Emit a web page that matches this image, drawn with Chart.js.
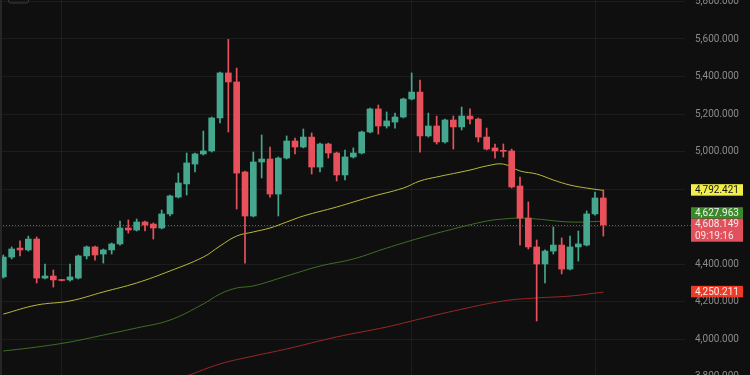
<!DOCTYPE html>
<html>
<head>
<meta charset="utf-8">
<script src="https://cdn.jsdelivr.net/npm/chart.js@4.4.1/dist/chart.umd.min.js"></script>
<style>
  html, body { margin: 0; padding: 0; background: #0f0f0f; }
  canvas { display: block; background: #0f0f0f; }
</style>
</head>
<body>
<canvas id="graphique" width="750" height="375"></canvas>
<script>
// ================================
// DONNÉES
// ================================

// Bougies, de gauche à droite (73 séances)
const ouvertures = [
  4331, 4437, 4485, 4475, 4533, 4325, 4336, 4316, 4315, 4325,
  4443, 4491, 4453, 4475, 4507, 4592, 4581, 4624, 4613, 4592,
  4667, 4757, 4827, 4933, 4987, 5003, 5179, 5419, 5371, 4891,
  4656, 4944, 4960, 4773, 4965, 5056, 5024, 5077, 4917, 5040,
  4992, 4875, 4971, 4992, 5104, 5227, 5136, 5157, 5184, 5280,
  5317, 5083, 5136, 5051, 5168, 5131, 5189, 5173, 5077, 5019,
  5006, 5003, 4816, 4645, 4491, 4400, 4469, 4501, 4373, 4491,
  4501, 4667, 4752
];
const hauts = [
  4448, 4491, 4523, 4549, 4544, 4400, 4368, 4318, 4400, 4448,
  4496, 4496, 4480, 4512, 4629, 4635, 4640, 4629, 4619, 4688,
  4768, 4885, 4992, 4992, 5109, 5184, 5424, 5598, 5445, 4895,
  4997, 5088, 5024, 4971, 5083, 5072, 5120, 5099, 5045, 5045,
  4997, 5008, 5019, 5109, 5232, 5248, 5211, 5205, 5285, 5419,
  5381, 5205, 5189, 5173, 5189, 5237, 5227, 5179, 5125, 5040,
  5040, 5013, 4864, 4731, 4528, 4475, 4597, 4539, 4549, 4576,
  4683, 4784, 4795
];
const bas = [
  4325, 4427, 4443, 4469, 4299, 4320, 4277, 4310, 4309, 4320,
  4427, 4421, 4405, 4453, 4501, 4565, 4576, 4576, 4533, 4587,
  4656, 4752, 4768, 4891, 4981, 4997, 5152, 5104, 4693, 4405,
  4651, 4859, 4757, 4656, 4960, 4987, 5019, 4880, 4891, 4965,
  4843, 4848, 4965, 4987, 5099, 5093, 5125, 5125, 5179, 5275,
  4997, 5077, 5040, 5045, 5013, 5115, 5147, 5051, 5008, 4965,
  4971, 4805, 4501, 4480, 4096, 4299, 4453, 4347, 4368, 4416,
  4496, 4661, 4549
];
const clotures = [
  4437, 4480, 4475, 4533, 4325, 4336, 4315, 4312, 4331, 4443,
  4491, 4448, 4475, 4507, 4592, 4581, 4624, 4608, 4592, 4667,
  4763, 4832, 4939, 4987, 5003, 5179, 5419, 5371, 4885, 4656,
  4944, 4960, 4773, 4965, 5056, 5024, 5077, 4917, 5040, 4992,
  4875, 4971, 4992, 5104, 5227, 5136, 5163, 5184, 5280, 5317,
  5083, 5136, 5051, 5168, 5131, 5189, 5173, 5077, 5013, 5003,
  5001, 4811, 4645, 4491, 4400, 4469, 4501, 4373, 4491, 4507,
  4667, 4752, 4608.149
];

// Moyennes mobiles, lues à quelques positions de bougie
const mmJauneX = [0, 4, 8, 12, 16, 20, 24, 26, 28, 30, 32, 34, 36, 40, 44, 48, 50, 52, 56, 58, 60, 62, 64, 66, 68, 70, 72];
const mmJauneY = [4133, 4181, 4203, 4251, 4299, 4363, 4437, 4496, 4549, 4571, 4592, 4624, 4656, 4704, 4757, 4805, 4843, 4864, 4901, 4923, 4933, 4896, 4880, 4848, 4821, 4805, 4792.421];

const mmVerteX = [0, 4, 8, 12, 16, 20, 24, 26, 28, 30, 34, 38, 42, 46, 50, 54, 58, 60, 62, 64, 68, 72];
const mmVerteY = [3936, 3957, 3984, 4021, 4059, 4101, 4187, 4240, 4272, 4283, 4336, 4389, 4427, 4485, 4539, 4587, 4629, 4640, 4645, 4640, 4624, 4627.963];

const mmRougeX = [20, 22, 26, 30, 34, 40, 46, 50, 54, 60, 64, 68, 72];
const mmRougeY = [3775, 3803, 3867, 3909, 3947, 4011, 4064, 4107, 4149, 4203, 4219, 4229, 4250.211];

// Graduations de l'axe des prix, et celles masquées par les étiquettes
const graduations = [3800, 4000, 4200, 4400, 4600, 4800, 5000, 5200, 5400, 5600, 5800];
const graduationsMasquees = [4600, 4800];

// Séparations de période (index de bougie)
const separations = [7, 49, 71];

// Étiquettes de droite
const prixActuel = 4608.149;
const compteARebours = '09:19:16';

// ================================
// COULEURS
// ================================

const VERT_BOUGIE = '#45a88e';
const ROUGE_BOUGIE = '#e8515b';
const GRILLE = 'rgba(255, 255, 255, 0.055)';

function couleurBougie(i) {
  return clotures[i] >= ouvertures[i] ? VERT_BOUGIE : ROUGE_BOUGIE;
}

function points(xs, ys) {
  return xs.map(function(x, k) { return { x: x, y: ys[k] }; });
}

function formatPrix(v) {
  return Number(v).toLocaleString('en-US', { minimumFractionDigits: 3, maximumFractionDigits: 3 });
}

const etiquettes = [
  { valeur: mmJauneY[mmJauneY.length - 1], lignes: [formatPrix(mmJauneY[mmJauneY.length - 1])], fond: '#f1ee4b', texte: '#141414' },
  { valeur: mmVerteY[mmVerteY.length - 1], lignes: [formatPrix(mmVerteY[mmVerteY.length - 1])], fond: '#3a8a2c', texte: '#f2f2f2' },
  { valeur: prixActuel, lignes: [formatPrix(prixActuel), compteARebours], fond: '#e2505b', texte: '#f6e6e8' },
  { valeur: mmRougeY[mmRougeY.length - 1], lignes: [formatPrix(mmRougeY[mmRougeY.length - 1])], fond: '#ee3b27', texte: '#f8eeee' }
];

// ================================
// PLUGIN : ligne de prix + étiquettes
// ================================

const pluginPrix = {
  id: 'prix',
  beforeDatasetsDraw: function(chart) {
    const ctx = chart.ctx;
    const zone = chart.chartArea;
    const y = Math.round(chart.scales.y.getPixelForValue(prixActuel)) + 0.5;
    ctx.save();
    ctx.strokeStyle = 'rgba(226, 80, 91, 0.75)';
    ctx.lineWidth = 1;
    ctx.setLineDash([1, 2]);
    ctx.beginPath();
    ctx.moveTo(zone.left, y);
    ctx.lineTo(zone.right + 6, y);
    ctx.stroke();
    ctx.restore();
  },
  afterDraw: function(chart) {
    const ctx = chart.ctx;
    const zone = chart.chartArea;
    const echelle = chart.scales.y;
    const hLigne = 11.5;

    // positions, puis on pousse vers le haut ce qui chevauche
    const boites = etiquettes.map(function(e) {
      const py = echelle.getPixelForValue(e.valeur);
      return { e: e, haut: py - hLigne / 2 - 0.5, h: hLigne * e.lignes.length };
    }).sort(function(a, b) { return a.haut - b.haut; });
    for (let k = boites.length - 2; k >= 0; k--) {
      const dessous = boites[k + 1];
      if (boites[k].haut + boites[k].h > dessous.haut) {
        boites[k].haut = dessous.haut - boites[k].h;
      }
    }

    ctx.save();
    ctx.font = '10px Roboto';
    ctx.textBaseline = 'middle';
    ctx.textAlign = 'left';
    boites.forEach(function(b) {
      ctx.fillStyle = b.e.fond;
      ctx.fillRect(zone.right + 6, b.haut, 52, b.h);
      ctx.fillStyle = b.e.texte;
      b.e.lignes.forEach(function(t, n) {
        ctx.fillText(t, zone.right + 10, b.haut + hLigne / 2 + 0.5 + n * hLigne);
      });
    });

    // bord gauche et petit bouton en haut
    ctx.fillStyle = '#262626';
    ctx.fillRect(0, 0, 2, chart.height);
    ctx.strokeStyle = '#3c3c3c';
    ctx.lineWidth = 1;
    ctx.beginPath();
    ctx.roundRect(8.5, -6, 20, 9, 2);
    ctx.stroke();
    ctx.restore();
  }
};

// ================================
// GRAPHIQUE
// ================================

const indices = ouvertures.map(function(_, i) { return i; });

new Chart(document.getElementById('graphique'), {
  type: 'bar',
  data: {
    datasets: [
      {
        label: 'Corps',
        data: indices.map(function(i) { return { x: i, y: [ouvertures[i], clotures[i]] }; }),
        backgroundColor: function(c) { return couleurBougie(c.dataIndex); },
        barThickness: 6,
        minBarLength: 1,
        grouped: false,
        order: 0
      },
      {
        label: 'Mèches',
        data: indices.map(function(i) { return { x: i, y: [bas[i], hauts[i]] }; }),
        backgroundColor: function(c) { return couleurBougie(c.dataIndex); },
        barThickness: 1,
        grouped: false,
        order: 1
      },
      {
        type: 'line',
        label: 'MM jaune',
        data: points(mmJauneX, mmJauneY),
        borderColor: '#b9b83a',
        borderWidth: 1,
        pointRadius: 0,
        tension: 0.4,
        order: 2
      },
      {
        type: 'line',
        label: 'MM verte',
        data: points(mmVerteX, mmVerteY),
        borderColor: '#3d6f25',
        borderWidth: 1,
        pointRadius: 0,
        tension: 0.4,
        order: 3
      },
      {
        type: 'line',
        label: 'MM rouge',
        data: points(mmRougeX, mmRougeY),
        borderColor: '#9a2626',
        borderWidth: 1,
        pointRadius: 0,
        tension: 0.4,
        order: 4
      }
    ]
  },
  options: {
    responsive: false,
    animation: false,
    layout: { padding: 0 },
    scales: {
      x: {
        type: 'linear',
        min: -0.4,
        max: 81.8,
        offset: false,
        afterBuildTicks: function(s) { s.ticks = separations.map(function(v) { return { value: v }; }); },
        afterFit: function(s) { s.height = 0; s.paddingLeft = 0; s.paddingRight = 0; },
        ticks: { display: false },
        grid: { color: GRILLE, drawTicks: false, offset: false },
        border: { display: false }
      },
      y: {
        position: 'right',
        min: 3808,
        max: 5808,
        afterBuildTicks: function(s) { s.ticks = graduations.map(function(v) { return { value: v }; }); },
        afterFit: function(s) { s.width = 65; s.paddingTop = 0; s.paddingBottom = 0; },
        grid: { color: GRILLE, drawTicks: false },
        border: { display: false },
        ticks: {
          color: '#8a8a8a',
          padding: 10,
          font: { family: 'Roboto', size: 10 },
          callback: function(v) { return graduationsMasquees.indexOf(v) >= 0 ? '' : formatPrix(v); }
        }
      }
    },
    plugins: {
      legend: { display: false },
      tooltip: { enabled: false }
    }
  },
  plugins: [pluginPrix]
});
</script>
</body>
</html>
